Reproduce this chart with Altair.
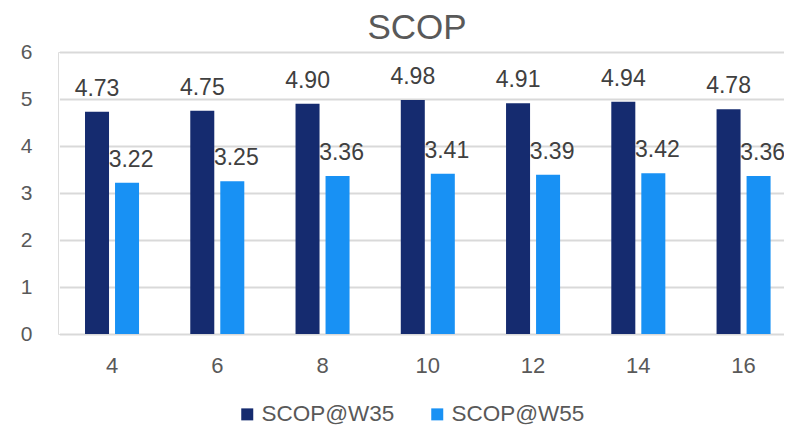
import altair as alt
import pandas as pd

categories = ["4", "6", "8", "10", "12", "14", "16"]
w35 = [4.73, 4.75, 4.90, 4.98, 4.91, 4.94, 4.78]
w55 = [3.22, 3.25, 3.36, 3.41, 3.39, 3.42, 3.36]
series = ["SCOP@W35", "SCOP@W55"]
colors = ["#152B6F", "#1891F4"]
y_ticks = [0, 1, 2, 3, 4, 5, 6]

rows = []
for c, a, b in zip(categories, w35, w55):
    rows.append({"k": c, "s": series[0], "v": a})
    rows.append({"k": c, "s": series[1], "v": b})
df = pd.DataFrame(rows)
df["lbl"] = df["v"].map(lambda v: f"{v:.2f}")

FONT = "Liberation Sans"
GREY = "#595959"

x = alt.X(
    "k:N", sort=categories,
    scale=alt.Scale(range=[1.4, 738.2], paddingInner=0.4867, paddingOuter=0.24335, round=False),
    axis=alt.Axis(title=None, labelAngle=0, ticks=False, tickSize=0, domain=False,
                  labelPadding=21, labelFontSize=22, labelColor=GREY, labelFont=FONT,
                  grid=False),
)
xo = alt.XOffset("s:N", sort=series,
                 scale=alt.Scale(paddingInner=0.2, paddingOuter=0, round=False))
y = alt.Y(
    "v:Q", scale=alt.Scale(domain=[0, 6], nice=False),
    axis=alt.Axis(title=None, values=y_ticks, grid=True, gridColor="#d9d9d9", gridWidth=2,
                  domain=False, ticks=False, tickSize=0, labelPadding=26, labelFontSize=21,
                  labelColor=GREY, labelFont=FONT),
)

bars = alt.Chart(df).mark_bar().encode(
    x=x, xOffset=xo, y=y,
    color=alt.Color(
        "s:N", sort=series, scale=alt.Scale(domain=series, range=colors),
        legend=alt.Legend(title=None, orient="none", legendX=178, legendY=351,
                          direction="horizontal", symbolType="square", symbolSize=144,
                          symbolStrokeWidth=0, labelFontSize=22.5, labelFont=FONT,
                          labelColor=GREY, labelOffset=3, columnPadding=31, padding=0),
    ),
)

lab1 = alt.Chart(df).transform_filter(alt.datum.s == series[0]).mark_text(
    dy=-16, baseline="alphabetic", fontSize=23, font=FONT, color="#404040"
).encode(x=x, xOffset=xo, y=y, text="lbl:N")

lab2 = alt.Chart(df).transform_filter(alt.datum.s == series[1]).mark_text(
    dy=-16, dx=4, baseline="alphabetic", fontSize=23, font=FONT, color="#404040"
).encode(x=x, xOffset=xo, y=y, text="lbl:N")

chart = alt.layer(bars, lab1, lab2).properties(
    width=726, height=282,
    autosize=alt.AutoSizeParams(type="none"),
    padding={"left": 50, "top": 44, "right": 0, "bottom": 92},
    title=alt.Title("SCOP", fontSize=35, font=FONT, color=GREY, fontWeight="normal",
                    anchor="middle", dx=-4, offset=-5),
).configure_view(stroke=None).configure(background="white")

chart.save("out.html", embed_options={"renderer": "svg", "actions": False})
